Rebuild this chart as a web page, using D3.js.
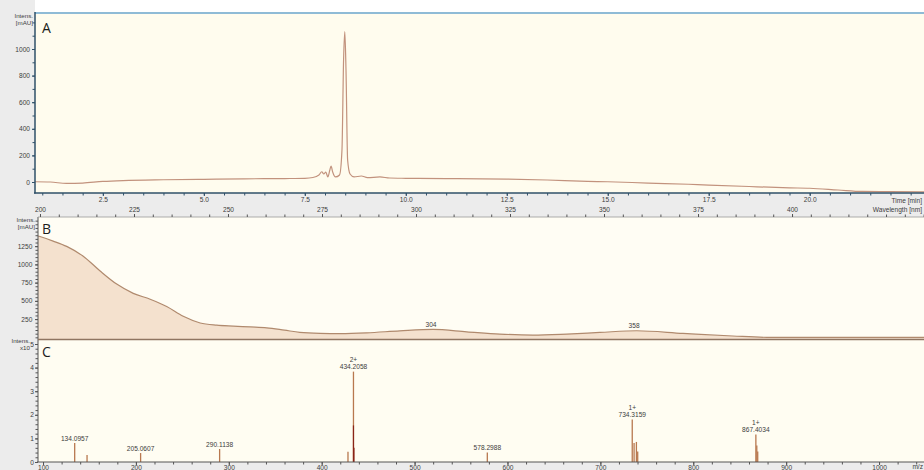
<!DOCTYPE html>
<html>
<head>
<meta charset="utf-8">
<script src="https://cdn.jsdelivr.net/npm/d3@7"></script>
<style>
body { margin: 0; background: #ececec; }
svg { display: block; font-family: "Liberation Sans", Arial, sans-serif; }
.tick text { fill: #3c3c3c; font-size: 6.6px; }
</style>
</head>
<body>
<svg id="chart" width="924" height="470"></svg>
<script>
// ***** DATA *****
// A: UV chromatogram (time in min, absorbance in mAU)
var timeMin = [0.82, 1.2, 1.6, 2.0, 2.5, 3.0, 4.0, 5.0, 6.0, 7.0, 7.5, 7.7, 7.85, 7.92, 7.97, 8.02, 8.07,
    8.12, 8.15, 8.19, 8.26, 8.36, 8.42, 8.46, 8.49, 8.52, 8.56, 8.62, 8.72, 8.9, 9.05, 9.36, 9.6,
    10.0, 11.0, 12.5, 13.5, 14.5, 15.0, 16.0, 17.0, 17.5, 18.5, 19.5, 20.0, 20.7, 21.3, 22.0, 22.83];
var absA = [2, 0, -11, -8, 4, 11, 17, 20, 24, 26, 28, 34, 53, 77, 60, 75, 38,
    90, 120, 75, 38, 53, 240, 920, 1130, 840, 165, 60, 38, 45, 33, 38, 30,
    28, 26, 22, 15, 5, 2, -8, -17, -23, -34, -44, -47, -60, -71, -73, -74];

// B: UV spectrum (wavelength in nm, absorbance in mAU)
var waveNm = [199.5, 200, 203.5, 207.1, 211.5, 216, 220.4, 224.8, 229.3, 233.7, 238.1, 242.6, 247,
    251.4, 256, 260.3, 265, 269.1, 274.5, 280, 286.9, 295.7, 304.5, 313.5, 322.3, 331.1, 340.1,
    348.9, 358.7, 371, 384.3, 393.4, 435.1];
var absB = [1390, 1382, 1320, 1247, 1112, 909, 730, 603, 522, 423, 288, 197, 166,
    153, 142, 130, 98, 68, 55, 52, 62, 89, 108, 76, 45, 31, 45,
    67, 90, 54, 18, 0, 0];
var bPeakNm = [304, 358];

// C: mass spectrum
var mzValues = [134.0957, 147.4, 205.0607, 290.1138, 428.3, 434.2058, 578.2988,
    734.3159, 736.3, 738.8, 740.2, 867.4034, 868.4, 869.4];
var mzIntens = [80000, 30000, 38000, 55000, 43000, 383000, 40000,
    180000, 80000, 85000, 45000, 117000, 70000, 45000];
var mzLabels = ["134.0957", "", "205.0607", "290.1138", "", "434.2058", "578.2988",
    "734.3159", "", "", "", "867.4034", "", ""];
var mzCharge = ["", "", "", "", "", "2+", "", "1+", "", "", "", "1+", "", ""];
var overlayMz = [434.21, 434.72];
var overlayIntens = [155000, 60000];

// tick labels
var timeTicks = [2.5, 5.0, 7.5, 10.0, 12.5, 15.0, 17.5, 20.0];
var waveTicks = [200, 225, 250, 275, 300, 325, 350, 375, 400];
var aTicks = [0, 200, 400, 600, 800, 1000];
var bTicks = [250, 500, 750, 1000, 1250];
var cTicks = [0, 1, 2, 3, 4, 5];
var mzTicks = [100, 200, 300, 400, 500, 600, 700, 800, 900, 1000];

var svg = d3.select("#chart");

// helper: draw one axis with minor ticks and labelled major ticks
function drawAxis(gen, scale, y0, x0, minor, major, fmt, pad, color) {
    var g = svg.append("g").attr("transform", "translate(" + x0 + "," + y0 + ")");
    g.call(gen(scale).tickValues(minor).tickSize(2.5).tickFormat(""));
    g.append("g").call(gen(scale).tickValues(major).tickSize(3).tickPadding(pad).tickFormat(fmt));
    g.selectAll(".domain").remove();
    g.selectAll("line").attr("stroke", color);
    return g;
}
function range(a, b, s) { return d3.range(a, b + s / 2, s); }

// ***** BACKGROUND *****
svg.append("rect").attr("x", 35).attr("y", 0).attr("width", 889).attr("height", 13).attr("fill", "#ffffff");
svg.append("rect").attr("x", 35).attr("y", 13).attr("width", 889).attr("height", 180).attr("fill", "#fffcee");
svg.append("rect").attr("x", 38).attr("y", 217).attr("width", 886).attr("height", 122).attr("fill", "#fffdf4");
svg.append("rect").attr("x", 38).attr("y", 340).attr("width", 886).attr("height", 122).attr("fill", "#fffdf2");

// ***** PANEL A *****
var xA = d3.scaleLinear().domain([0.82, 22.83]).range([35, 924]);
var yA = d3.scaleLinear().domain([-82.7, 1270.7]).range([193, 13]);

svg.append("path")
    .datum(timeMin.map(function(t, i) { return [t, absA[i]]; }))
    .attr("fill", "none")
    .attr("stroke", "#c2927d")
    .attr("stroke-width", 1.2)
    .attr("d", d3.line().curve(d3.curveMonotoneX)
        .x(function(d) { return xA(d[0]); }).y(function(d) { return yA(d[1]); }));

svg.append("line").attr("x1", 35).attr("x2", 924).attr("y1", 13).attr("y2", 13)
    .attr("stroke", "#8fbbd6").attr("stroke-width", 2);
svg.append("line").attr("x1", 35).attr("x2", 35).attr("y1", 12).attr("y2", 193.5)
    .attr("stroke", "#2f5068").attr("stroke-width", 1.5);
svg.append("line").attr("x1", 34).attr("x2", 924).attr("y1", 193).attr("y2", 193)
    .attr("stroke", "#2f5068").attr("stroke-width", 1.5);

drawAxis(d3.axisLeft, yA, 0, 35, range(0, 1200, 100), aTicks, d3.format("d"), 2, "#2f5068");
drawAxis(d3.axisBottom, xA, 193, 0, range(1.0, 22.5, 0.5), timeTicks, d3.format(".1f"), 1.5, "#2f5068");

svg.append("text").attr("x", 922).attr("y", 202.5).attr("text-anchor", "end")
    .attr("font-size", 6.6).attr("fill", "#3c3c3c").text("Time [min]");
svg.append("text").attr("x", 33).attr("y", 17.5).attr("text-anchor", "end")
    .attr("font-size", 6.2).attr("fill", "#3c3c3c").text("Intens.");
svg.append("text").attr("x", 33).attr("y", 25).attr("text-anchor", "end")
    .attr("font-size", 6.2).attr("fill", "#3c3c3c").text("[mAU]");
svg.append("text").attr("x", 42).attr("y", 33).attr("font-size", 14)
    .attr("font-family", "Open Sans, sans-serif").attr("fill", "#1c1c1c").text("A");

// ***** PANEL B *****
var xB = d3.scaleLinear().domain([199.47, 435.1]).range([38, 924]);
var yB = d3.scaleLinear().domain([-23, 1650]).range([339, 217]);
var specB = waveNm.map(function(w, i) { return [w, absB[i]]; });

svg.append("path")
    .datum(specB)
    .attr("fill", "#f4e1ce")
    .attr("d", d3.area().curve(d3.curveMonotoneX)
        .x(function(d) { return xB(d[0]); }).y0(339).y1(function(d) { return yB(d[1]); }));
svg.append("path")
    .datum(specB)
    .attr("fill", "none")
    .attr("stroke", "#b08a6e")
    .attr("stroke-width", 1.2)
    .attr("d", d3.line().curve(d3.curveMonotoneX)
        .x(function(d) { return xB(d[0]); }).y(function(d) { return yB(d[1]); }));

svg.selectAll(".bpeak")
    .data(bPeakNm)
    .enter()
    .append("text")
    .attr("class", "bpeak")
    .attr("x", function(d) { return xB(d); })
    .attr("y", function(d) {
        var i = d3.bisectLeft(waveNm, d);
        return yB(absB[Math.min(i, absB.length - 1)]) - 2.5;
    })
    .attr("text-anchor", "middle")
    .attr("font-size", 6.6)
    .attr("fill", "#3c3c3c")
    .text(function(d) { return d; });

svg.append("line").attr("x1", 38).attr("x2", 38).attr("y1", 217).attr("y2", 340)
    .attr("stroke", "#555").attr("stroke-width", 1);
svg.append("line").attr("x1", 38).attr("x2", 924).attr("y1", 217).attr("y2", 217)
    .attr("stroke", "#9a9a9a").attr("stroke-width", 0.8);
drawAxis(d3.axisLeft, yB, 0, 38, range(0, 1600, 50), bTicks, d3.format("d"), 2.7, "#555");
drawAxis(d3.axisTop, xB, 217, 0, range(200, 435, 5), waveTicks, d3.format("d"), 2, "#555");

svg.append("text").attr("x", 922).attr("y", 212).attr("text-anchor", "end")
    .attr("font-size", 6.6).attr("fill", "#3c3c3c").text("Wavelength [nm]");
svg.append("text").attr("x", 35).attr("y", 221.5).attr("text-anchor", "end")
    .attr("font-size", 6.2).attr("fill", "#3c3c3c").text("Intens.");
svg.append("text").attr("x", 35).attr("y", 228.5).attr("text-anchor", "end")
    .attr("font-size", 6.2).attr("fill", "#3c3c3c").text("[mAU]");
svg.append("text").attr("x", 42).attr("y", 234).attr("font-size", 14)
    .attr("font-family", "Open Sans, sans-serif").attr("fill", "#1c1c1c").text("B");

// ***** PANEL C *****
var xC = d3.scaleLinear().domain([94.6, 1048.4]).range([38, 924]);
var yC = d3.scaleLinear().domain([0, 517000]).range([462, 340]);

svg.selectAll(".peak")
    .data(mzValues)
    .enter()
    .append("line")
    .attr("class", "peak")
    .attr("x1", function(d) { return xC(d); })
    .attr("x2", function(d) { return xC(d); })
    .attr("y1", yC(0))
    .attr("y2", function(d, i) { return yC(mzIntens[i]); })
    .attr("stroke", "#b8784f")
    .attr("stroke-width", 1.3);

svg.selectAll(".overlay")
    .data(overlayMz)
    .enter()
    .append("line")
    .attr("class", "overlay")
    .attr("x1", function(d) { return xC(d); })
    .attr("x2", function(d) { return xC(d); })
    .attr("y1", yC(0))
    .attr("y2", function(d, i) { return yC(overlayIntens[i]); })
    .attr("stroke", "#8a2418")
    .attr("stroke-width", 1.2);

var lab = svg.selectAll(".plab")
    .data(mzValues)
    .enter()
    .append("g")
    .attr("class", "plab")
    .attr("transform", function(d, i) { return "translate(" + xC(d) + "," + yC(mzIntens[i]) + ")"; });
lab.append("text")
    .attr("y", -2.5)
    .attr("text-anchor", "middle")
    .attr("font-size", 6.6)
    .attr("fill", "#3c3c3c")
    .text(function(d, i) { return mzLabels[i]; });
lab.append("text")
    .attr("y", -9.5)
    .attr("text-anchor", "middle")
    .attr("font-size", 6.6)
    .attr("fill", "#3c3c3c")
    .text(function(d, i) { return mzCharge[i]; });

svg.append("line").attr("x1", 38).attr("x2", 924).attr("y1", 339.5).attr("y2", 339.5)
    .attr("stroke", "#8f7561").attr("stroke-width", 1.6);
svg.append("line").attr("x1", 38).attr("x2", 38).attr("y1", 340).attr("y2", 462)
    .attr("stroke", "#555").attr("stroke-width", 1);
svg.append("line").attr("x1", 37).attr("x2", 924).attr("y1", 462).attr("y2", 462)
    .attr("stroke", "#555").attr("stroke-width", 1);
drawAxis(d3.axisLeft, yC, 0, 38, range(0, 500000, 20000), cTicks.map(function(v) { return v * 1e5; }),
    function(v) { return v / 1e5; }, 1, "#555");
var gx = drawAxis(d3.axisBottom, xC, 462, 0, range(100, 1040, 20), mzTicks, d3.format("d"), 0.5, "#555");

svg.append("text").attr("x", 923).attr("y", 468.5).attr("text-anchor", "end")
    .attr("font-size", 6.6).attr("fill", "#3c3c3c").text("m/z");
svg.append("text").attr("x", 30).attr("y", 342.5).attr("text-anchor", "end")
    .attr("font-size", 6.2).attr("fill", "#3c3c3c").text("Intens.");
svg.append("text").attr("x", 30).attr("y", 349.5).attr("text-anchor", "end")
    .attr("font-size", 6.2).attr("fill", "#3c3c3c").text("x10");
svg.append("text").attr("x", 42).attr("y", 357).attr("font-size", 14)
    .attr("font-family", "Open Sans, sans-serif").attr("fill", "#1c1c1c").text("C");
</script>
</body>
</html>
